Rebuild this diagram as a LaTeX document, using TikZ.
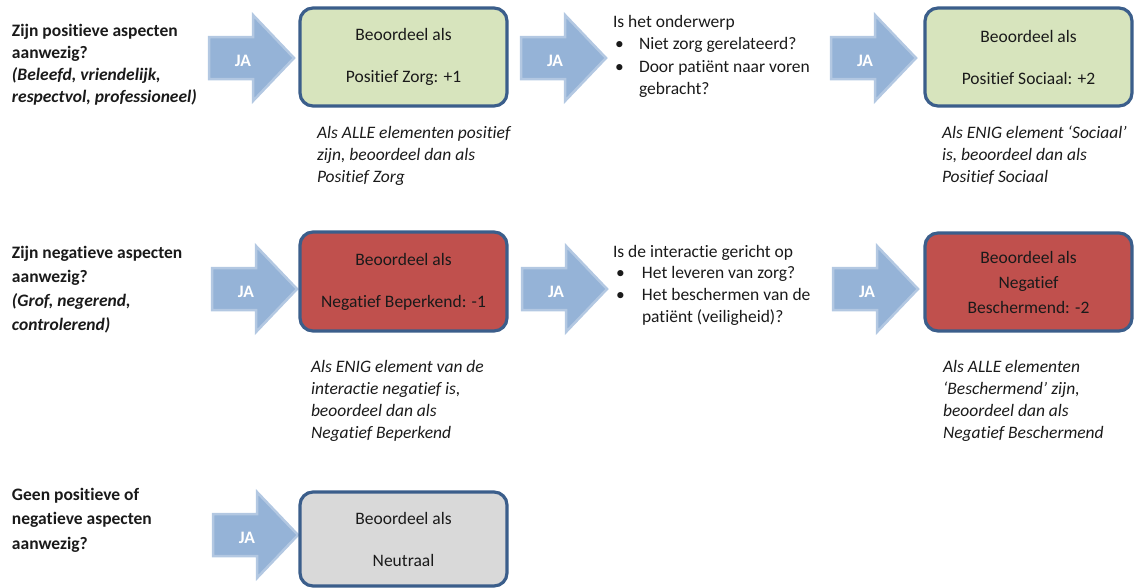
\documentclass[tikz,border=0pt]{standalone}
\usepackage{fontspec}
\setmainfont{Carlito}[Ligatures=CommonOff]
\definecolor{arrowfill}{HTML}{95B3D7}
\definecolor{arrowedge}{HTML}{B3C8E2}
\definecolor{boxborder}{HTML}{3B5E8B}
\definecolor{greenfill}{HTML}{D7E4BD}
\definecolor{redfill}{HTML}{C0504D}
\definecolor{grayfill}{HTML}{D9D9D9}
\definecolor{ink}{HTML}{1A1A1A}
\tikzset{
  every node/.style={inner sep=0pt, outer sep=0pt, text=ink},
  txt/.style={anchor=north west, align=left, yshift=0.7*#1pt,
    font=\fontsize{17.5}{#1}\selectfont},
  boldtxt/.style={txt=#1, font=\fontsize{17.5}{#1}\selectfont\bfseries},
  captxt/.style={txt=#1, font=\fontsize{17.5}{#1}\selectfont\itshape},
  resbox/.style={draw=boxborder, line width=3.2pt, rounded corners=13pt,
    minimum width=207pt, align=center, font=\fontsize{17.5}{21}\selectfont},
  arrowbody/.style={fill=arrowfill, draw=arrowedge, line width=2.5pt, line join=miter},
  jatxt/.style={text=white, font=\fontsize{17.5}{21}\selectfont\bfseries},
  ja/.pic={
    \path[arrowbody] (-42,-21) -- (2,-21) -- (2,-43) -- (43,0) -- (2,43) -- (2,21) -- (-42,21) -- cycle;
    \node[jatxt] (-lbl) at (-8,3) {JA};
  }
}
\begin{document}
\begin{tikzpicture}[x=1pt,y=-1pt]
\useasboundingbox (0,0) rectangle (1134,587);

% ---------- Row 1 ----------
\node[boldtxt=22] (q1) at (12,36) {\strut Zijn positieve aspecten\\aanwezig?\\\textit{(Beleefd, vriendelijk,}\\\textit{respectvol, professioneel)}};
\pic (a11) at (251,58) {ja};
\node[resbox, fill=greenfill, minimum height=98pt] (b1) at (403.5,57) {Beoordeel als\\[21pt]Positief Zorg: +1};
\node[captxt=22] (c1) at (317,138) {\strut Als ALLE elementen positief\\zijn, beoordeel dan als\\Positief Zorg};
\pic (a12) at (563,58) {ja};
\node[txt=22.5] (q2) at (613,27) {\strut Is het onderwerp\\
  \hspace*{2pt}\makebox[24pt][l]{\textbullet}Niet zorg gerelateerd?\\
  \hspace*{2pt}\makebox[24pt][l]{\textbullet}Door patiënt naar voren\\
  \hspace*{26pt}gebracht?};
\pic (a13) at (873,58) {ja};
\node[resbox, fill=greenfill, minimum height=98pt] (b2) at (1028.5,57) {Beoordeel als\\[21pt]Positief Sociaal: +2};
\node[captxt=22] (c2) at (942,138) {\strut Als ENIG element ‘Sociaal’\\is, beoordeel dan als\\Positief Sociaal};

% ---------- Row 2 ----------
\node[boldtxt=24] (q3) at (12,258) {\strut Zijn negatieve aspecten\\aanwezig?\\\textit{(Grof, negerend,}\\\textit{controlerend)}};
\pic (a21) at (254,289) {ja};
\node[resbox, fill=redfill, minimum height=99pt] (b3) at (403.5,281.5) {Beoordeel als\\[21pt]Negatief Beperkend: -1};
\node[captxt=22] (c3) at (311,372) {\strut Als ENIG element van de\\interactie negatief is,\\beoordeel dan als\\Negatief Beperkend};
\pic (a22) at (564,289) {ja};
\node[txt=21.7] (q4) at (613,257) {\strut Is de interactie gericht op\\
  \hspace*{3pt}\makebox[26pt][l]{\textbullet}Het leveren van zorg?\\
  \hspace*{3pt}\makebox[26pt][l]{\textbullet}Het beschermen van de\\
  \hspace*{29pt}patiënt (veiligheid)?};
\pic (a23) at (875,289) {ja};
\node[resbox, fill=redfill, minimum height=98pt, font=\fontsize{17.5}{25}\selectfont] (b4) at (1028.5,282) {Beoordeel als\\Negatief\\Beschermend: -2};
\node[captxt=22] (c4) at (943,372) {\strut Als ALLE elementen\\‘Beschermend’ zijn,\\beoordeel dan als\\Negatief Beschermend};

% ---------- Row 3 ----------
\node[boldtxt=24.5] (q5) at (12,500) {\strut Geen positieve of\\negatieve aspecten\\aanwezig?};
\pic (a31) at (255,535) {ja};
\node[resbox, fill=grayfill, minimum height=94pt] (b5) at (403.5,539) {Beoordeel als\\[21pt]Neutraal};
\end{tikzpicture}
\end{document}
